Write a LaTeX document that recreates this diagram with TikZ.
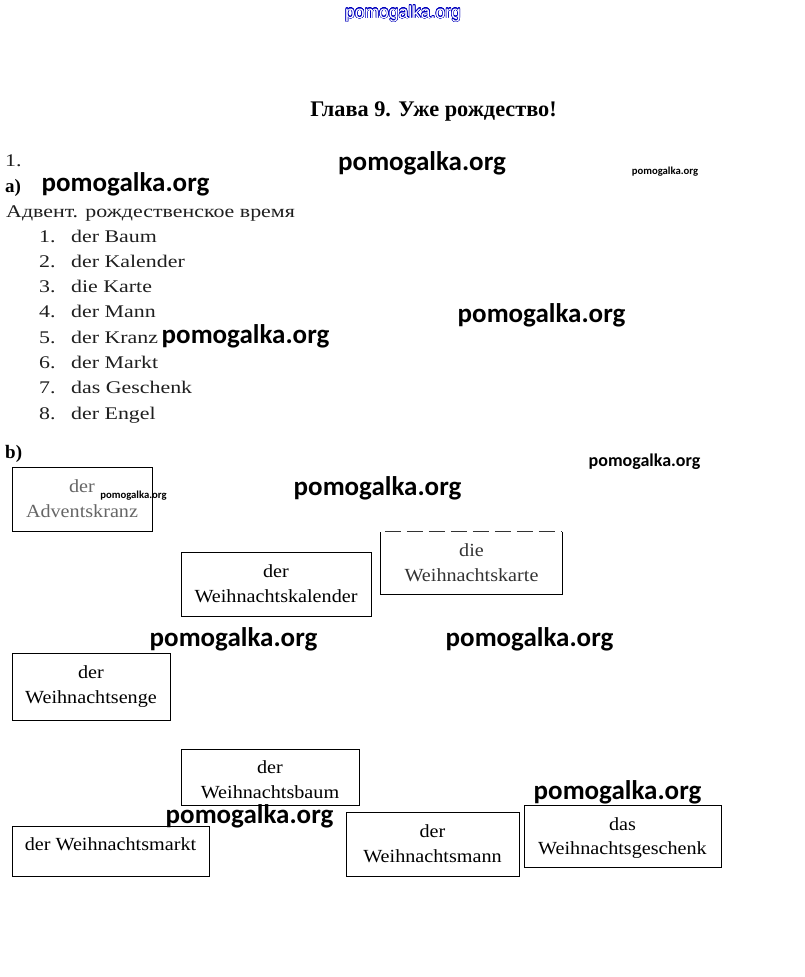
\documentclass[tikz,border=0pt]{standalone}
\usepackage{fontspec}
\usepackage{contour}
\contourlength{0.4pt}
\contournumber{24}
\setmainfont{Liberation Serif}
\newfontfamily\listfont[FakeStretch=1.23]{Liberation Serif}
\newfontfamily\boxfont[FakeStretch=1.09]{Liberation Serif}
\newfontfamily\wmfont{Carlito}
\newfontfamily\topfont{Liberation Sans}
\tikzset{
  wmbig/.style={font=\wmfont\bfseries\fontsize{27}{30}\selectfont, anchor=base, inner sep=0pt},
  wmmid/.style={font=\wmfont\bfseries\fontsize{18}{20}\selectfont, anchor=base, inner sep=0pt},
  wmsmall/.style={font=\wmfont\bfseries\fontsize{10.7}{12}\selectfont, anchor=base, inner sep=0pt},
  txt/.style={font=\listfont\fontsize{17.8}{20}\selectfont, anchor=base west, inner sep=0pt, text=black!88},
  boldlbl/.style={font=\bfseries\fontsize{19}{22}\selectfont, anchor=base west, inner sep=0pt},
  wordbox/.style={draw=black, line width=0.8pt, inner sep=0pt},
  boxtxt/.style={font=\boxfont\fontsize{18.5}{20}\selectfont, anchor=base, inner sep=0pt},
}
\begin{document}
\begin{tikzpicture}[x=1pt,y=-1pt]
\useasboundingbox (0,0) rectangle (804,977);
\fill[white] (0,0) rectangle (804,977);
% top watermark
\node[font=\topfont\fontsize{17.5}{20}\selectfont, anchor=base, inner sep=0pt] (top) at (403,18) {\contour{blue!75!black}{\color{white}pomogalka.org}};
% title
\node[font=\bfseries\fontsize{22.3}{24}\selectfont, anchor=base, inner sep=0pt] (title) at (433.5,116) {Глава 9. Уже рождество!};
% part a
\node[txt] (one) at (5,166) {1.};
\node[boldlbl] (pa) at (5,192) {а)};
\node[txt] (advtitle) at (6,217) {Адвент. рождественское время};
\foreach \n/\w [count=\i from 0] in {1/der Baum,2/der Kalender,3/die Karte,4/der Mann,5/der Kranz,6/der Markt,7/das Geschenk,8/der Engel}{
  \node[txt] (num\n) at (39,{242+25.3*\i}) {\n.};
  \node[txt] (item\n) at (71,{242+25.3*\i}) {\w};
}
% part b
\node[boldlbl] (pb) at (5,458) {b)};
% boxes
\node[wordbox, minimum width=140, minimum height=64] (advent) at (82,499) {};
\node[boxtxt, text=black!60] (adventA) at (82,492) {der};
\node[boxtxt, text=black!60] (adventB) at (82,517) {Adventskranz};

\node[wordbox, minimum width=190, minimum height=64] (kal) at (276,584) {};
\node[boxtxt] (kalA) at (276,577) {der};
\node[boxtxt] (kalB) at (276,602) {Weihnachtskalender};

\node[minimum width=181, minimum height=62, inner sep=0pt] (karte) at (471.5,563) {};
\draw[line width=0.8pt] (karte.north east) -- (karte.south east) -- (karte.south west) -- (karte.north west);
\draw[line width=0.8pt, black!80, dash pattern=on 16pt off 6pt, dash phase=-4pt] (karte.north west) -- (karte.north east);
\node[boxtxt, text=black!80] (karteA) at (471.5,556) {die};
\node[boxtxt, text=black!80] (karteB) at (471.5,581) {Weihnachtskarte};

\node[wordbox, minimum width=158, minimum height=67] (enge) at (91,686.5) {};
\node[boxtxt] (engeA) at (91,678) {der};
\node[boxtxt] (engeB) at (91,703) {Weihnachtsenge};

\node[wordbox, minimum width=178, minimum height=56] (baum) at (270,777) {};
\node[boxtxt] (baumA) at (270,773) {der};
\node[boxtxt] (baumB) at (270,798) {Weihnachtsbaum};

\node[wordbox, minimum width=197, minimum height=50] (markt) at (110.5,851) {};
\node[boxtxt] (marktA) at (110.5,850) {der Weihnachtsmarkt};

\node[wordbox, minimum width=173, minimum height=64] (mann) at (432.5,844) {};
\node[boxtxt] (mannA) at (432.5,837) {der};
\node[boxtxt] (mannB) at (432.5,862) {Weihnachtsmann};

\node[wordbox, minimum width=197, minimum height=62] (gesch) at (622.5,836) {};
\node[boxtxt] (geschA) at (622.5,830) {das};
\node[boxtxt] (geschB) at (622.5,854) {Weihnachtsgeschenk};
% watermarks
\node[wmbig] (w1) at (422,170) {pomogalka.org};
\node[wmbig] (w2) at (125.5,191) {pomogalka.org};
\node[wmsmall] (w3) at (665,174) {pomogalka.org};
\node[wmbig] (w4) at (245.5,343) {pomogalka.org};
\node[wmbig] (w5) at (541.5,322) {pomogalka.org};
\node[wmmid] (w6) at (644.5,466) {pomogalka.org};
\node[wmsmall] (w7) at (133.5,498) {pomogalka.org};
\node[wmbig] (w8) at (377.5,495) {pomogalka.org};
\node[wmbig] (w9) at (233.5,646) {pomogalka.org};
\node[wmbig] (w10) at (529.5,646) {pomogalka.org};
\node[wmbig] (w11) at (617.5,799) {pomogalka.org};
\node[wmbig] (w12) at (249.5,823) {pomogalka.org};
\end{tikzpicture}
\end{document}
